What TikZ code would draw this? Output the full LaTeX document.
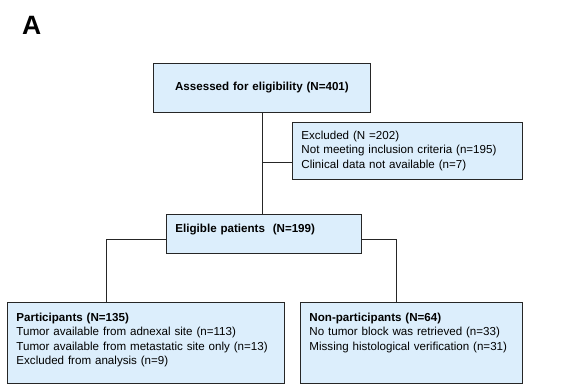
\documentclass[tikz,border=0pt]{standalone}
\usepackage{fontspec}
\setmainfont{Liberation Sans}
\usepackage{xcolor}
\usepackage{tikz}

\definecolor{boxblue}{RGB}{220,238,252}

\begin{document}
\begin{tikzpicture}[
    x=1pt, y=-1pt,
    box/.style={
        rectangle,
        draw=black!85,
        fill=boxblue,
        line width=0.9pt,
        inner xsep=9pt,
        inner ysep=4pt,
        align=left,
        anchor=north west,
        font=\fontsize{11.6}{14.3}\selectfont
    },
    boldbox/.style={box, font=\bfseries\fontsize{11.6}{14.3}\selectfont},
    link/.style={line width=0.9pt, draw=black!85}
]

\useasboundingbox (0,0) rectangle (573,387);

\node[font=\bfseries\fontsize{26.5}{26.5}\selectfont, anchor=base west, inner sep=0pt] (panel) at (22,34.5) {A};

\node[boldbox, text width=199pt, align=center, minimum height=49pt] (assessed) at (153,63) {Assessed for eligibility (N=401)};
\node[box, text width=212pt, minimum height=57pt] (excluded) at (292,122) {Excluded (N =202)\\Not meeting inclusion criteria (n=195)\\Clinical data not available (n=7)};
\node[boldbox, text width=177pt, text height=14pt, text depth=17pt] (eligible) at (166,214) {Eligible patients\ \ (N=199)};
\node[box, text width=259pt, text height=15pt, text depth=58pt] (participants) at (7,302) {\textbf{Participants (N=135)}\\Tumor available from adnexal site (n=113)\\Tumor available from metastatic site only (n=13)\\Excluded from analysis (n=9)};
\node[box, text width=204pt, text height=15pt, text depth=58pt] (nonparticipants) at (300,302) {\textbf{Non-participants (N=64)}\\No tumor block was retrieved (n=33)\\Missing histological verification (n=31)};

\coordinate (exclin) at ([yshift=-11.5pt]excluded.west);
\coordinate (partin) at ([xshift=-39.5pt]participants.north);
\coordinate (nonin) at ([xshift=-15pt]nonparticipants.north);

\draw[link] (assessed.south) -- (assessed.south |- eligible.north);
\draw[link] (exclin -| assessed.south) -- (exclin);
\draw[link] ([yshift=-5.5pt]eligible.west) -| (partin);
\draw[link] ([yshift=-5.5pt]eligible.east) -| (nonin);

\end{tikzpicture}
\end{document}
